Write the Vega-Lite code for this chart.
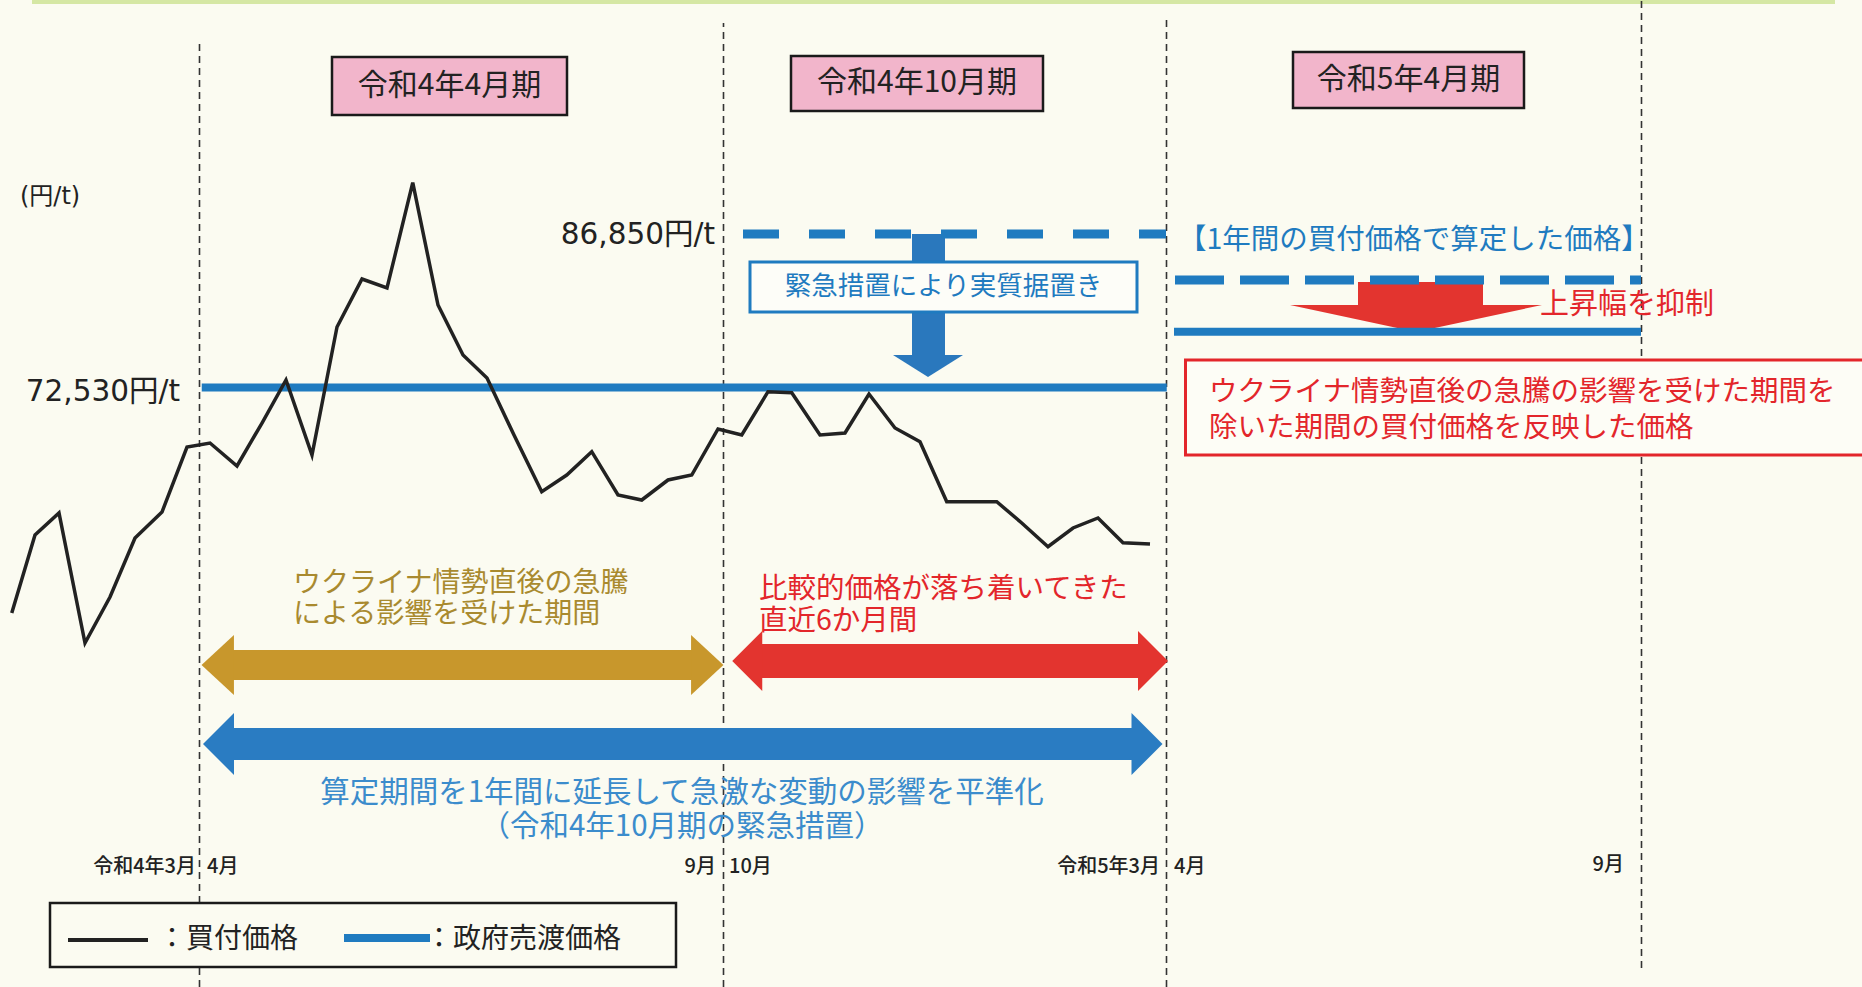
{
  "$schema": "https://vega.github.io/schema/vega-lite/v6.json",
  "width": 1862,
  "height": 987,
  "padding": 0,
  "autosize": {"type": "none"},
  "background": "#fbfbf1",
  "config": {"view": {"stroke": null}, "font": "Noto Sans CJK JP", "text": {"fontWeight": "normal"}},
  "encoding": {
    "x": {"field": "u", "type": "quantitative", "scale": {"domain": [-7.98, 66.5], "nice": false, "zero": false}, "axis": null},
    "y": {"field": "p", "type": "quantitative", "scale": {"domain": [16603, 108680], "nice": false, "zero": false}, "axis": null}
  },
  "layer": [
    {
      "data": {"values": [{"u": -6.7, "u2": 65.42, "p": 108300, "p2": 108700}]},
      "mark": {"type": "rect", "color": "#d5e7a4"},
      "encoding": {"x2": {"field": "u2"}, "y2": {"field": "p2"}}
    },
    {
      "data": {"values": [
        {"u": 0, "p": 16603, "p2": 104948},
        {"u": 20.96, "p": 16603, "p2": 106534},
        {"u": 38.68, "p": 16603, "p2": 106814},
        {"u": 57.68, "p": 18375, "p2": 108680}
      ]},
      "mark": {"type": "rule", "color": "#333333", "strokeWidth": 1.6, "strokeDash": [7, 5]},
      "encoding": {"y2": {"field": "p2"}}
    },
    {
      "data": {"values": [{"u": 1.2, "u2": 19.8, "p": 45243, "p2": 48041}]},
      "mark": {"type": "rect", "color": "#c8972c"},
      "encoding": {"x2": {"field": "u2"}, "y2": {"field": "p2"}}
    },
    {
      "data": {"values": [{"u": 0.73, "p": 46642}]},
      "mark": {"type": "point", "shape": "M-0.54,0 L0.54,-1 L0.54,1 Z", "size": 3600, "filled": true, "opacity": 1, "strokeWidth": 0, "color": "#c8972c"}
    },
    {
      "data": {"values": [{"u": 20.31, "p": 46642}]},
      "mark": {"type": "point", "shape": "M0.54,0 L-0.54,-1 L-0.54,1 Z", "size": 3600, "filled": true, "opacity": 1, "strokeWidth": 0, "color": "#c8972c"}
    },
    {
      "data": {"values": [{"u": 22.3, "u2": 37.7, "p": 45429, "p2": 48601}]},
      "mark": {"type": "rect", "color": "#e3342f"},
      "encoding": {"x2": {"field": "u2"}, "y2": {"field": "p2"}}
    },
    {
      "data": {"values": [{"u": 21.91, "p": 47015}]},
      "mark": {"type": "point", "shape": "M-0.5,0 L0.5,-1 L0.5,1 Z", "size": 3600, "filled": true, "opacity": 1, "strokeWidth": 0, "color": "#e3342f"}
    },
    {
      "data": {"values": [{"u": 38.14, "p": 47015}]},
      "mark": {"type": "point", "shape": "M0.5,0 L-0.5,-1 L-0.5,1 Z", "size": 3600, "filled": true, "opacity": 1, "strokeWidth": 0, "color": "#e3342f"}
    },
    {
      "data": {"values": [{"u": 1.2, "u2": 37.5, "p": 37779, "p2": 40765}]},
      "mark": {"type": "rect", "color": "#2a7cc2"},
      "encoding": {"x2": {"field": "u2"}, "y2": {"field": "p2"}}
    },
    {
      "data": {"values": [{"u": 0.76, "p": 39272}]},
      "mark": {"type": "point", "shape": "M-0.5,0 L0.5,-1 L0.5,1 Z", "size": 3844, "filled": true, "opacity": 1, "strokeWidth": 0, "color": "#2a7cc2"}
    },
    {
      "data": {"values": [{"u": 37.9, "p": 39272}]},
      "mark": {"type": "point", "shape": "M0.5,0 L-0.5,-1 L-0.5,1 Z", "size": 3844, "filled": true, "opacity": 1, "strokeWidth": 0, "color": "#2a7cc2"}
    },
    {
      "data": {"values": [{"u": 46.34, "u2": 51.34, "p": 79900, "p2": 82372}]},
      "mark": {"type": "rect", "color": "#e3342f"},
      "encoding": {"x2": {"field": "u2"}, "y2": {"field": "p2"}}
    },
    {
      "data": {"values": [{"u": 48.66, "p": 78967}]},
      "mark": {"type": "point", "shape": "M-1,-0.107 L1,-0.107 L0,0.107 Z", "size": 63504, "filled": true, "opacity": 1, "strokeWidth": 0, "color": "#e3342f"}
    },
    {
      "data": {"values": [{"u": 28.5, "u2": 29.82, "p": 75300, "p2": 86850}]},
      "mark": {"type": "rect", "color": "#2a78bd"},
      "encoding": {"x2": {"field": "u2"}, "y2": {"field": "p2"}}
    },
    {
      "data": {"values": [{"u": 29.14, "p": 74536}]},
      "mark": {"type": "point", "shape": "M-1,-0.314 L1,-0.314 L0,0.314 Z", "size": 4900, "filled": true, "opacity": 1, "strokeWidth": 0, "color": "#2a78bd"}
    },
    {
      "data": {"values": [
        {"u": 0.09, "u2": 38.69, "p": 72530},
        {"u": 38.98, "u2": 57.66, "p": 77736}
      ]},
      "mark": {"type": "rule", "color": "#1f7bc0", "strokeWidth": 8},
      "encoding": {"x2": {"field": "u2"}}
    },
    {
      "data": {"values": [{"u": 21.74, "u2": 38.66, "p": 86850}]},
      "mark": {"type": "rule", "color": "#1f7bc0", "strokeWidth": 9, "strokeDash": [36, 30]},
      "encoding": {"x2": {"field": "u2"}}
    },
    {
      "data": {"values": [{"u": 39.02, "u2": 57.66, "p": 82559}]},
      "mark": {"type": "rule", "color": "#1f7bc0", "strokeWidth": 9, "strokeDash": [49, 16]},
      "encoding": {"x2": {"field": "u2"}}
    },
    {
      "data": {"values": [{"u": 22.02, "u2": 37.5, "p": 79573, "p2": 84238}]},
      "mark": {"type": "rect", "fill": "#fdfdf8", "stroke": "#1f7bc0", "strokeWidth": 3},
      "encoding": {"x2": {"field": "u2"}, "y2": {"field": "p2"}}
    },
    {
      "data": {"values": [{"u": 39.44, "u2": 67, "p": 66233, "p2": 75095}]},
      "mark": {"type": "rect", "fill": "#fdfdf6", "stroke": "#e3262b", "strokeWidth": 3},
      "encoding": {"x2": {"field": "u2"}, "y2": {"field": "p2"}}
    },
    {
      "data": {"values": [
        {"u": -7.51, "p": 51493}, {"u": -6.58, "p": 58770}, {"u": -5.62, "p": 60822}, {"u": -4.58, "p": 48694},
        {"u": -3.58, "p": 52986}, {"u": -2.58, "p": 58490}, {"u": -1.5, "p": 60915}, {"u": -0.5, "p": 66979},
        {"u": 0.42, "p": 67352}, {"u": 1.5, "p": 65207}, {"u": 2.5, "p": 69218}, {"u": 3.46, "p": 73230},
        {"u": 4.5, "p": 66233}, {"u": 5.5, "p": 78174}, {"u": 6.5, "p": 82652}, {"u": 7.5, "p": 81812},
        {"u": 8.53, "p": 91636}, {"u": 9.54, "p": 80226}, {"u": 10.54, "p": 75562}, {"u": 11.5, "p": 73416},
        {"u": 12.58, "p": 68099}, {"u": 13.69, "p": 62809}, {"u": 14.69, "p": 64367}, {"u": 15.69, "p": 66541},
        {"u": 16.74, "p": 62501}, {"u": 17.69, "p": 62035}, {"u": 18.74, "p": 63901}, {"u": 19.69, "p": 64367},
        {"u": 20.74, "p": 68658}, {"u": 21.69, "p": 68099}, {"u": 22.74, "p": 72138}, {"u": 23.69, "p": 72045},
        {"u": 24.82, "p": 68099}, {"u": 25.82, "p": 68285}, {"u": 26.78, "p": 71924}, {"u": 27.82, "p": 68752},
        {"u": 28.82, "p": 67474}, {"u": 29.89, "p": 61876}, {"u": 30.89, "p": 61876}, {"u": 31.89, "p": 61876},
        {"u": 32.89, "p": 59889}, {"u": 33.94, "p": 57678}, {"u": 34.94, "p": 59423}, {"u": 35.94, "p": 60356},
        {"u": 36.94, "p": 58051}, {"u": 38.02, "p": 57930}
      ]},
      "mark": {"type": "line", "color": "#222222", "strokeWidth": 3.5, "strokeJoin": "miter"}
    },
    {
      "data": {"values": [
        {"u": 5.3, "u2": 14.7, "p": 97952, "p2": 103362},
        {"u": 23.66, "u2": 33.74, "p": 98325, "p2": 103456},
        {"u": 43.74, "u2": 52.98, "p": 98605, "p2": 103829}
      ]},
      "mark": {"type": "rect", "fill": "#f2b5cb", "stroke": "#1a1a1a", "strokeWidth": 2.5},
      "encoding": {"x2": {"field": "u2"}, "y2": {"field": "p2"}}
    },
    {
      "data": {"values": [
        {"t": "令和4年4月期", "u": 10.0, "p": 100657},
        {"t": "令和4年10月期", "u": 28.7, "p": 100983},
        {"t": "令和5年4月期", "u": 48.36, "p": 101217}
      ]},
      "mark": {"type": "text", "fontSize": 30, "align": "center", "baseline": "middle", "color": "#222222"},
      "encoding": {"text": {"field": "t"}}
    },
    {
      "data": {"values": [
        {"t": "86,850円/t", "u": 20.62, "p": 86760},
        {"t": "72,530円/t", "u": -0.78, "p": 72150}
      ]},
      "mark": {"type": "text", "font": "DejaVu Sans, Noto Sans CJK JP", "fontSize": 29.5, "align": "right", "baseline": "middle", "color": "#222222"},
      "encoding": {"text": {"field": "t"}}
    },
    {
      "data": {"values": [{"t": "(円/t)", "u": -7.18, "p": 90302}]},
      "mark": {"type": "text", "font": "DejaVu Sans, Noto Sans CJK JP", "fontSize": 24, "align": "left", "baseline": "middle", "color": "#222222"},
      "encoding": {"text": {"field": "t"}}
    },
    {
      "data": {"values": [{"t": "緊急措置により実質据置き", "u": 29.76, "p": 81905}]},
      "mark": {"type": "text", "fontSize": 26.5, "align": "center", "baseline": "middle", "color": "#1f7bc0"},
      "encoding": {"text": {"field": "t"}}
    },
    {
      "data": {"values": [{"t": "【1年間の買付価格で算定した価格】", "u": 39.14, "p": 86290}]},
      "mark": {"type": "text", "fontSize": 28.5, "align": "left", "baseline": "middle", "color": "#1f7bc0"},
      "encoding": {"text": {"field": "t"}}
    },
    {
      "data": {"values": [{"t": "上昇幅を抑制", "u": 53.62, "p": 80226}]},
      "mark": {"type": "text", "fontSize": 29, "align": "left", "baseline": "middle", "color": "#e3262b"},
      "encoding": {"text": {"field": "t"}}
    },
    {
      "data": {"values": [
        {"t": "ウクライナ情勢直後の急騰の影響を受けた期間を\n除いた期間の買付価格を反映した価格", "u": 40.38, "p": 72110}
      ]},
      "mark": {"type": "text", "fontSize": 28.5, "lineBreak": "\n", "lineHeight": 36, "align": "left", "baseline": "middle", "color": "#e3262b"},
      "encoding": {"text": {"field": "t"}}
    },
    {
      "data": {"values": [
        {"t": "ウクライナ情勢直後の急騰\nによる影響を受けた期間", "u": 3.74, "p": 54199}
      ]},
      "mark": {"type": "text", "fontSize": 28, "lineBreak": "\n", "lineHeight": 31, "align": "left", "baseline": "middle", "color": "#a98a2f"},
      "encoding": {"text": {"field": "t"}}
    },
    {
      "data": {"values": [
        {"t": "比較的価格が落ち着いてきた\n直近6か月間", "u": 22.38, "p": 53732}
      ]},
      "mark": {"type": "text", "fontSize": 28.5, "lineBreak": "\n", "lineHeight": 32, "align": "left", "baseline": "middle", "color": "#e3262b"},
      "encoding": {"text": {"field": "t"}}
    },
    {
      "data": {"values": [
        {"t": "算定期間を1年間に延長して急激な変動の影響を平準化\n（令和4年10月期の緊急措置）", "u": 19.3, "p": 34701}
      ]},
      "mark": {"type": "text", "fontSize": 29.5, "lineBreak": "\n", "lineHeight": 34, "align": "center", "baseline": "middle", "color": "#3b8ccc"},
      "encoding": {"text": {"field": "t"}}
    },
    {
      "data": {"values": [
        {"t": "令和4年3月", "u": -0.14, "p": 27797},
        {"t": "9月", "u": 20.66, "p": 27797},
        {"t": "令和5年3月", "u": 38.42, "p": 27797},
        {"t": "9月", "u": 56.98, "p": 27985}
      ]},
      "mark": {"type": "text", "fontSize": 20, "fontWeight": 500, "align": "right", "baseline": "middle", "color": "#222222"},
      "encoding": {"text": {"field": "t"}}
    },
    {
      "data": {"values": [
        {"t": "4月", "u": 0.3, "p": 27797},
        {"t": "10月", "u": 21.18, "p": 27797},
        {"t": "4月", "u": 38.98, "p": 27797}
      ]},
      "mark": {"type": "text", "fontSize": 20, "fontWeight": 500, "align": "left", "baseline": "middle", "color": "#222222"},
      "encoding": {"text": {"field": "t"}}
    },
    {
      "data": {"values": [{"u": -5.98, "u2": 19.06, "p": 18468, "p2": 24439}]},
      "mark": {"type": "rect", "fill": "#fbfbf1", "stroke": "#1a1a1a", "strokeWidth": 2.5},
      "encoding": {"x2": {"field": "u2"}, "y2": {"field": "p2"}}
    },
    {
      "data": {"values": [{"u": -5.26, "u2": -2.06, "p": 20987}]},
      "mark": {"type": "rule", "color": "#222222", "strokeWidth": 4},
      "encoding": {"x2": {"field": "u2"}}
    },
    {
      "data": {"values": [{"u": 5.78, "u2": 9.22, "p": 21173}]},
      "mark": {"type": "rule", "color": "#1f7bc0", "strokeWidth": 8},
      "encoding": {"x2": {"field": "u2"}}
    },
    {
      "data": {"values": [
        {"t": "：買付価格", "u": -1.66, "p": 20987},
        {"t": "：政府売渡価格", "u": 9.02, "p": 20987}
      ]},
      "mark": {"type": "text", "fontSize": 28, "align": "left", "baseline": "middle", "color": "#222222"},
      "encoding": {"text": {"field": "t"}}
    }
  ]
}
